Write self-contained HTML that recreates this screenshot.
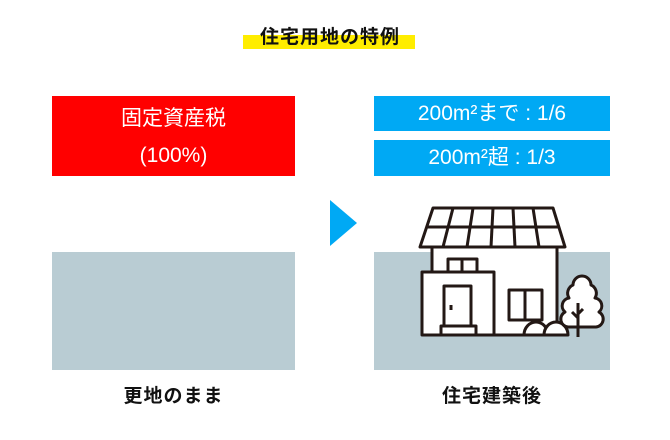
<!DOCTYPE html>
<html><head><meta charset="utf-8"><style>
body{margin:0;width:670px;height:440px;background:#fff;position:relative;overflow:hidden;font-family:"Liberation Sans","Noto Sans CJK JP",sans-serif}
.a{position:absolute}
.t{position:absolute;text-align:center;color:#fff}
</style></head><body>
<div class="a" style="left:243px;top:35px;width:172px;height:14px;background:#ffed00"></div>
<div class="a" style="left:230px;top:22px;width:200px;text-align:center;font-size:19px;font-weight:bold;color:#111;letter-spacing:1px">住宅用地の特例</div>
<div class="a" style="left:52px;top:96px;width:243px;height:80px;background:#ff0000"></div>
<div class="t" style="left:52px;top:100px;width:243px;font-size:21px;line-height:37px">固定資産税<br>(100%)</div>
<div class="a" style="left:374px;top:96px;width:236px;height:35px;background:#00a9f4"></div>
<div class="t" style="left:374px;top:96px;width:236px;font-size:21px;line-height:35px">200m²まで : 1/6</div>
<div class="a" style="left:374px;top:140px;width:236px;height:36px;background:#00a9f4"></div>
<div class="t" style="left:374px;top:140px;width:236px;font-size:21px;line-height:36px">200m²超 : 1/3</div>
<div class="a" style="left:52px;top:252px;width:243px;height:118px;background:#b9ccd3"></div>
<div class="a" style="left:374px;top:252px;width:236px;height:118px;background:#b9ccd3"></div>
<svg class="a" style="left:0;top:0" width="670" height="440">
<polygon points="330,200 357,223 330,246" fill="#00a9f4"/>
<g stroke="#231815" stroke-width="3" fill="#fff" stroke-linejoin="round">
<rect x="432" y="247" width="125" height="88"/>
<polygon points="433,208 553,208 565,247 420,247"/>
<line x1="426" y1="227" x2="559" y2="227"/>
<line x1="453" y1="208" x2="443" y2="247"/><line x1="473" y1="208" x2="467" y2="247"/>
<line x1="493" y1="208" x2="491" y2="247"/><line x1="513" y1="208" x2="515" y2="247"/>
<line x1="533" y1="208" x2="539" y2="247"/>
<rect x="448" y="259" width="29" height="13"/><line x1="462" y1="259" x2="462" y2="272"/>
<rect x="422" y="272" width="72" height="63"/>
<rect x="444" y="286" width="27" height="44"/>
<rect x="441" y="326" width="35" height="9"/>
<line x1="451" y1="305" x2="451" y2="310"/>
<rect x="509" y="290" width="33" height="30"/><line x1="525" y1="290" x2="525" y2="320"/>
<path d="M524,335 a12,13 0 1 1 24,0 z"/>
<path d="M544,335 a12,13 0 1 1 24,0 z"/>
<path d="M582,327 h-14 a8,8 0 0 1 -3,-15 a8,8 0 0 1 4,-14 a9,9 0 0 1 4,-13 a9,9 0 0 1 18,0 a9,9 0 0 1 4,13 a8,8 0 0 1 4,14 a8,8 0 0 1 -3,15 z"/>
<line x1="578" y1="303" x2="578" y2="337"/><line x1="578" y1="318" x2="572" y2="312"/><line x1="578" y1="314" x2="583" y2="309"/>
</g>
</svg>
<div class="a" style="left:52px;top:381px;width:243px;text-align:center;font-size:19px;font-weight:bold;color:#111;letter-spacing:1px">更地のまま</div>
<div class="a" style="left:374px;top:381px;width:236px;text-align:center;font-size:19px;font-weight:bold;color:#111;letter-spacing:1px">住宅建築後</div>
</body></html>
